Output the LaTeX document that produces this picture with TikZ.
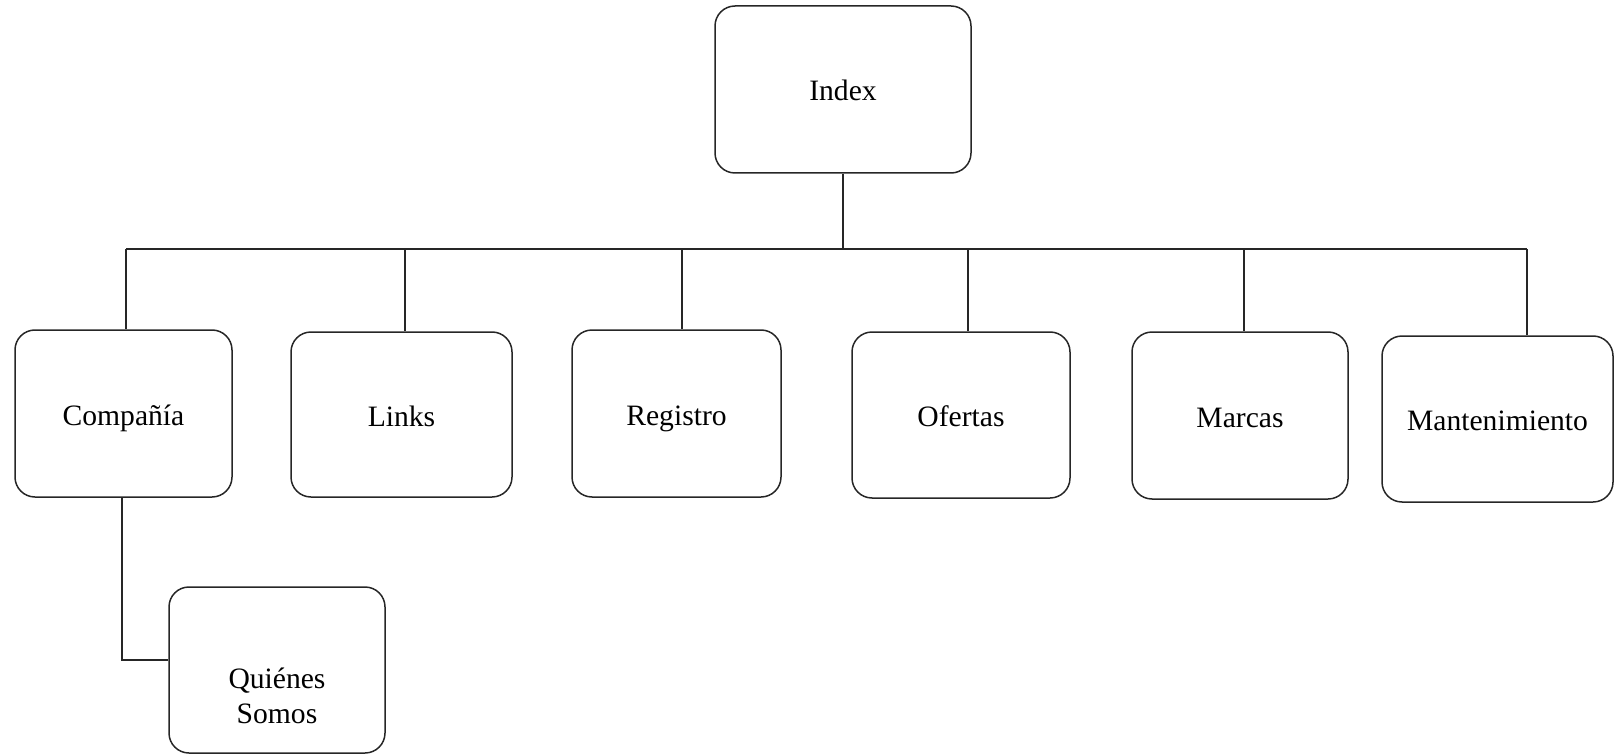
\documentclass[tikz,border=0pt]{standalone}
\usepackage{fontspec}
\setmainfont{Liberation Serif}
\begin{document}
\begin{tikzpicture}[x=0.5pt,y=-0.5pt,
  box/.style={draw=black!85, line width=0.75pt, rounded corners=10pt, inner sep=0pt,
    font=\fontsize{14.8}{17.5}\selectfont, align=center, text height=11.5pt, text depth=0pt},
  txt/.style={inner sep=0pt, font=\fontsize{14.8}{17.5}\selectfont, align=center},
  conn/.style={draw=black!85, line width=0.75pt}]
\useasboundingbox (0,0) rectangle (1615,754);
% boxes
\node[box, minimum width=128pt, minimum height=83.5pt] (idx) at (843,89.5) {Index};
\node[box, minimum width=108.5pt, minimum height=83.5pt] (comp) at (123.5,413.5) {Compañía};
\node[box, minimum width=110.5pt, minimum height=82.5pt] (links) at (401.5,414.5) {Links};
\node[box, minimum width=104.5pt, minimum height=83.5pt] (reg) at (676.5,413.5) {Registro};
\node[box, minimum width=109pt, minimum height=83pt] (ofe) at (961,415) {Ofertas};
\node[box, minimum width=108pt, minimum height=83.5pt] (mar) at (1240,415.5) {Marcas};
\node[box, minimum width=115.5pt, minimum height=83pt] (man) at (1497.5,419) {Mantenimiento};
\node[box, minimum width=108pt, minimum height=83pt] (qui) at (277,670) {};
\node[txt] (quitxt) at (277,696) {Quiénes\\Somos};
% bus coordinates
\coordinate (b0) at (126,249);
\coordinate (b1) at (405,249);
\coordinate (b2) at (682,249);
\coordinate (b3) at (968,249);
\coordinate (b4) at (1244,249);
\coordinate (b5) at (1527,249);
\coordinate (bi) at (843,249);
\coordinate (qc) at (122,660);
% connectors
\draw[conn] (idx.south) -- (bi);
\draw[conn] (b0) -- (b5);
\draw[conn] (b0) -- (b0 |- comp.north);
\draw[conn] (b1) -- (b1 |- links.north);
\draw[conn] (b2) -- (b2 |- reg.north);
\draw[conn] (b3) -- (b3 |- ofe.north);
\draw[conn] (b4) -- (b4 |- mar.north);
\draw[conn] (b5) -- (b5 |- man.north);
\draw[conn] (qc |- comp.south) -- (qc) -- (qc -| qui.west);
\end{tikzpicture}
\end{document}
